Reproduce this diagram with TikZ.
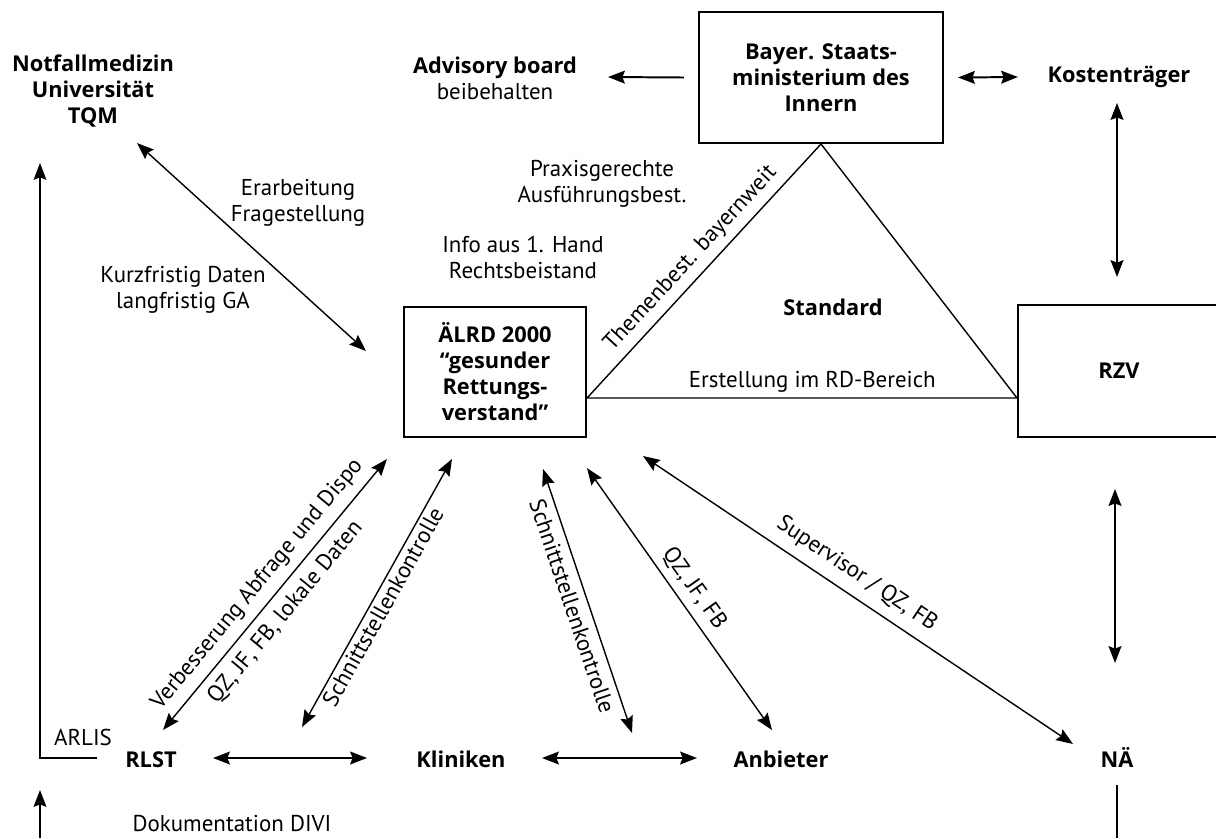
\documentclass[tikz,border=0pt]{standalone}
\usepackage{fontspec}
\setmainfont{PT Sans}
\newfontfamily\heavyfont{Open Sans}
\usetikzlibrary{arrows.meta}
\begin{document}
\begin{tikzpicture}[x=0.025cm, y=-0.025cm,
  every node/.style={font=\fontsize{16.3}{18.5}\selectfont, align=center},
  fathead/.tip={Stealth[length=4.2mm, width=3.2mm, inset=0.6mm]},
  box/.style={draw, line width=1.4pt, inner sep=0pt, font=\fontsize{15.5}{18.5}\selectfont\heavyfont\bfseries},
  bold/.style={font=\fontsize{15.5}{18.5}\selectfont\heavyfont\bfseries},
  link/.style={fathead-fathead, line width=1pt},
  flow/.style={-fathead, line width=1pt},
  heavy/.style={line width=1.4pt},
  along/.style={sloped, inner sep=2pt}]
\useasboundingbox (0,0) rectangle (1216,838);
%
\node[bold] (tqm) at (93,91) {Notfallmedizin\\Universität\\TQM};
\node (adv) at (495,78) {{\heavyfont\bfseries\fontsize{15.5}{18.5}\selectfont Advisory board}\\beibehalten};
\node[box, minimum width=6.1cm, minimum height=3.275cm] (bayer) at (821,77.5) {Bayer. Staats-\\ministerium des\\Innern};
\node[bold] (kosten) at (1119,77) {Kostenträger};
%
\node (praxis) at (602,184) {Praxisgerechte\\Ausführungsbest.};
\node (info) at (523,257) {Info aus 1. Hand\\Rechtsbeistand};
\node (erarb) at (298,203) {Erarbeitung\\Fragestellung};
\node (kurz) at (183,290) {Kurzfristig Daten\\langfristig GA};
%
\node[box, minimum width=4.55cm, minimum height=3.25cm] (alrd) at (495,372) {ÄLRD 2000\\“gesunder\\Rettungs-\\verstand”};
\node[bold] (std) at (833,307) {Standard};
\node[box, minimum width=5.05cm, minimum height=3.3cm] (rzv) at (1119,371) {RZV};
%
\node[bold, anchor=base] (rlst) at (151,767) {RLST};
\node[bold, anchor=base] (klin) at (461,767) {Kliniken};
\node[bold, anchor=base] (anb) at (781,767) {Anbieter};
\node[bold, anchor=base] (na) at (1117,767) {NÄ};
\node[anchor=base] (arlis) at (83,745) {ARLIS};
\node[anchor=base] (doku) at (232,831) {Dokumentation DIVI};
%
\coordinate (tri-l) at ([shift={(0,26)}]alrd.east);
\coordinate (tri-r) at ([shift={(0,27)}]rzv.west);
\draw[line width=1pt, line join=round, line cap=round] (tri-l) -- node[along, above=3pt, pos=.5] {Themenbest. bayernweit} (bayer.south) -- (tri-r) -- node[above, pos=.476] {Erstellung im RD-Bereich} (tri-l);
%
\draw[link] ([shift={(44,52)}]tqm.center) -- ([shift={(-37,45)}]alrd.north west);
\draw[flow, heavy] ([shift={(-14,0)}]bayer.west) -- ([shift={(113,-1)}]adv.center);
\draw[link, heavy] ([shift={(14,0)}]bayer.east) -- ([shift={(-101,0)}]kosten.center);
\draw[link, heavy] ([shift={(-2,26)}]kosten.center) -- ([shift={(-2,-27)}]rzv.north);
\draw[link, heavy] ([shift={(-4,51)}]rzv.south) -- ([shift={(-2,-104)}]na.base);
%
\draw[link, heavy] ([shift={(62,-9)}]rlst.base) -- ([shift={(-94,-9)}]klin.base);
\draw[link, heavy] ([shift={(81,-9)}]klin.base) -- ([shift={(-84,-9)}]anb.base);
%
\draw[link] ([shift={(12,-37)}]rlst.base) -- node[along, above=4pt, pos=.49] {Verbesserung Abfrage und Dispo} node[along, below=4pt, pos=.48] {QZ, JF, FB, lokale Daten} ([shift={(-16,21)}]alrd.south west);
\draw[link] ([shift={(-159,-40)}]klin.base) -- node[along, below, pos=.47] {Schnittstellenkontrolle} ([shift={(-43,21)}]alrd.south);
\draw[link] ([shift={(48,31)}]alrd.south) -- node[along, below=3pt] {Schnittstellenkontrolle} ([shift={(171,-34)}]klin.base);
\draw[link] ([shift={(92,30)}]alrd.south) -- node[along, above=3pt] {QZ, JF, FB} ([shift={(-9,-37)}]anb.base);
\draw[link] ([shift={(56,18)}]alrd.south east) -- node[along, above=5pt, pos=.47] {Supervisor / QZ, FB} ([shift={(-44,-23)}]na.base);
%
\draw[flow] ([shift={(-54,-9)}]rlst.base) -| ([shift={(-53,72)}]tqm.center);
\coordinate (doku-in) at (40,838);
\draw[flow] (doku-in) -- ([shift={(-192,-41)}]doku.base);
\coordinate (na-out) at (1117,838);
\draw[line width=1pt] ([shift={(0,18)}]na.base) -- (na-out);
%
\end{tikzpicture}
\end{document}
